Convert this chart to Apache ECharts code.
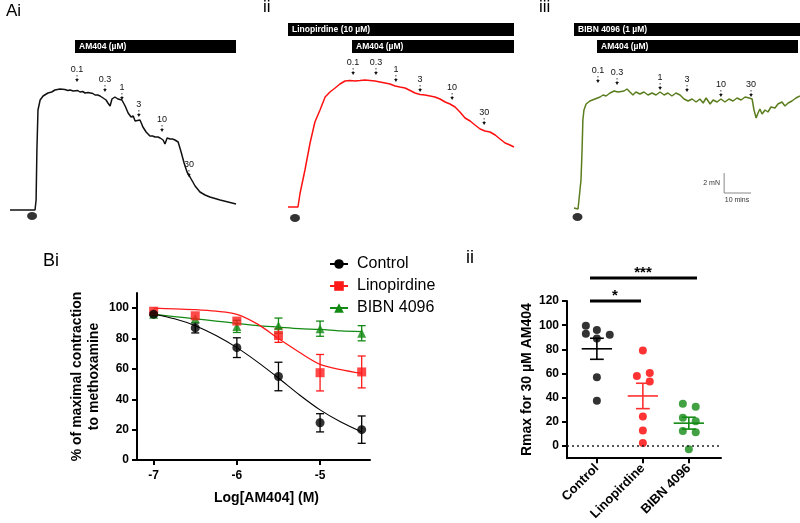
<!DOCTYPE html>
<html>
<head>
<meta charset="utf-8">
<title>AM404 relaxation</title>
<script src="https://cdn.jsdelivr.net/npm/echarts@6/dist/echarts.min.js"></script>
<style>
  html, body { margin: 0; padding: 0; background: #fff; }
  #chart { width: 800px; height: 523px; }
</style>
</head>
<body>
<div id="chart"></div>
<script>
// ---- A: tension traces, [time (min), tension (mN)] ----
const traceControl = [
  [0, 1.0], [9.3, 1.0], [9.7, 2.0], [10.0, 7.0], [10.4, 11.0], [11.2, 12.0], [12.3, 12.4], [14.1, 12.7],
  [15.5, 12.8], [16.7, 13.0], [18.6, 13.1], [20.4, 13.05], [21.5, 12.95], [22.3, 13.0], [23.5, 12.9],
  [24.2, 12.85], [25.2, 12.95], [26.0, 12.8], [27.0, 12.85], [27.9, 12.7], [29.0, 12.75], [29.7, 12.6],
  [30.8, 12.65], [31.6, 12.5], [32.6, 12.5], [33.5, 12.4], [34.6, 12.2], [35.7, 12.0], [36.4, 11.7],
  [37.2, 11.4], [37.9, 12.1], [39.0, 12.3], [40.1, 12.1], [41.6, 12.0], [42.8, 11.4], [43.9, 10.7],
  [44.5, 10.9], [45.0, 10.3], [45.8, 10.4], [46.5, 9.9], [47.2, 10.1], [48.3, 10.0], [48.8, 9.7],
  [49.4, 9.3], [50.6, 8.8], [52.0, 8.4], [53.0, 8.4], [53.9, 8.3], [55.0, 8.3], [55.8, 8.2], [56.9, 8.0],
  [57.6, 7.6], [58.4, 8.2], [59.5, 8.1], [60.4, 8.1], [61.3, 8.0], [62.5, 7.8], [63.6, 6.8], [64.7, 5.7],
  [65.8, 4.8], [66.9, 4.3], [68.8, 3.4], [70.6, 2.8], [72.5, 2.5], [74.3, 2.3], [78.1, 2.0], [81.8, 1.75],
  [84.0, 1.6]
]
const traceLino = [
  [0, 1.3], [3.7, 1.3], [4.5, 2.7], [6.3, 5.0], [8.2, 7.7], [10.0, 9.8], [11.9, 11.0], [13.8, 12.3],
  [15.6, 12.8], [17.5, 13.2], [19.3, 13.6], [21.2, 13.9], [23.0, 13.95], [24.9, 13.9], [26.8, 13.95],
  [28.6, 14.0], [30.5, 13.95], [32.3, 13.9], [34.2, 13.8], [36.1, 13.7], [37.9, 13.6], [39.8, 13.4],
  [41.6, 13.3], [43.5, 13.2], [45.4, 12.95], [47.2, 12.7], [49.1, 12.55], [50.9, 12.5], [52.8, 12.4],
  [54.6, 12.3], [56.5, 12.1], [58.4, 11.8], [60.2, 11.6], [62.1, 11.3], [63.9, 10.8], [65.8, 10.2],
  [67.7, 9.9], [69.5, 9.5], [71.4, 9.1], [73.2, 8.9], [75.1, 8.8], [77.0, 8.5], [78.8, 8.1], [80.7, 7.7],
  [82.5, 7.5], [84.0, 7.3]
]
const traceBibn = [
  [0, 1.2], [1.5, 1.1], [2.2, 1.2], [2.6, 4.0], [3.0, 7.0], [3.3, 10.0], [3.7, 11.0], [4.5, 11.6],
  [5.9, 11.9], [7.8, 12.1], [9.7, 12.3], [10.8, 12.5], [11.9, 12.4], [13.4, 12.7], [14.9, 12.9],
  [16.4, 12.8], [17.1, 13.0], [18.6, 12.9], [19.7, 13.1], [20.8, 12.8], [21.9, 12.5], [23.0, 12.8],
  [24.5, 12.6], [26.0, 12.8], [27.5, 12.5], [29.0, 12.7], [30.5, 12.5], [32.0, 12.8], [33.5, 12.5],
  [34.9, 12.7], [36.4, 12.4], [37.9, 12.7], [39.4, 12.5], [40.9, 12.1], [42.4, 11.9], [43.9, 12.1],
  [45.4, 11.8], [46.8, 12.1], [48.0, 11.7], [49.1, 12.2], [50.6, 11.6], [51.7, 12.0], [53.2, 11.8],
  [54.6, 12.1], [56.1, 11.8], [57.6, 12.1], [59.1, 11.9], [60.6, 12.2], [62.1, 12.0], [63.6, 12.3],
  [65.1, 12.2], [66.2, 12.1], [66.9, 11.0], [67.7, 10.2], [68.4, 10.7], [69.1, 11.1], [69.9, 10.6],
  [71.0, 11.0], [72.1, 10.8], [73.2, 11.3], [74.7, 11.2], [75.8, 11.6], [77.3, 11.8], [78.4, 11.4],
  [79.6, 11.7], [81.0, 11.9], [82.5, 12.2], [84.0, 12.4]
]

// AM404 additions: [time, tension at arrow tip, concentration (µM)]
const arrowsControl = [[24.9, 13.8, '0.1'], [35.3, 12.8, '0.3'], [41.6, 12.0, '1'], [47.9, 10.3, '3'], [56.5, 8.8, '10'], [66.5, 4.3, '30']]
const arrowsLino = [[24.2, 14.5, '0.1'], [32.7, 14.5, '0.3'], [40.1, 13.8, '1'], [49.1, 12.8, '3'], [61.0, 12.0, '10'], [72.9, 9.5, '30']]
const arrowsBibn = [[8.9, 13.7, '0.1'], [16.0, 13.5, '0.3'], [32.0, 13.0, '1'], [42.0, 12.8, '3'], [54.6, 12.3, '10'], [65.8, 12.3, '30']]

// methoxamine addition (filled dot)
const mxControl = [[8.2, 0.4]]
const mxLino = [[2.6, 0.2]]
const mxBibn = [[1.3, 0.3]]

// scale bar: 2 mN x 10 mins
const scaleBar = [[55.8, 4.7], [55.8, 2.7], [65.8, 2.7]]

// ---- B(i): concentration-response ----
const logDose = [-7, -6.5, -6, -5.5, -5, -4.5]
const controlMean = [96, 87, 74, 55, 24.5, 20]
const controlSem = [1, 3.3, 6.5, 9.4, 6, 9]
const linoMean = [98, 95, 91.5, 82, 57.5, 58]
const linoSem = [0, 0, 0, 4.5, 12, 10.5]
const bibnMean = [96, 93, 88, 88.5, 86.5, 83.5]
const bibnSem = [0, 0, 4, 5, 5, 5]

const fitX = [-7, -6.75, -6.5, -6.25, -6, -5.75, -5.5, -5.25, -5, -4.75, -4.5]
const controlFit = [96, 93, 88.5, 82, 74, 64.5, 54, 43, 33, 25, 18.5]
const linoFit = [100, 99.5, 99, 98, 96, 89.5, 80, 71, 63, 59.5, 57]
const bibnFit = [96, 94.5, 93, 91.5, 90, 88.5, 87.5, 86.5, 86, 85, 84.5]

// ---- B(ii): Rmax for 30 µM AM404, [group position, value] ----
const groups = ['Control', 'Linopirdine', 'BIBN 4096']
const rmaxControl = [[-0.24, 99.5], [-0.24, 93], [0, 96], [0, 89], [0.28, 92], [0, 57], [0, 37.5]]
const rmaxLino = [[1, 79], [0.87, 58], [1.15, 60.5], [1.15, 53.5], [1, 24.5], [1, 13], [1, 2.5]]
const rmaxBibn = [[1.87, 35], [2.15, 32.5], [1.87, 23.5], [2.15, 20.5], [1.87, 12.5], [2.15, 11.5], [2, -2.5]]
const rmaxMean = [80.5, 41.5, 19]
const rmaxSem = [8.7, 10.5, 4.9]

const FONT = 'Liberation Sans, Arial, sans-serif'
const GREEN = '#138a13'
const RED = '#ff1a1a'

const chart = echarts.init(document.getElementById('chart'))

function zip(xs, ys) {
  return xs.map((x, i) => [x, ys[i]])
}

function traceSeries(idx, data, color) {
  return {
    type: 'line', xAxisIndex: idx, yAxisIndex: idx, data: data,
    showSymbol: false, silent: true,
    lineStyle: { color: color, width: 1.5 }
  }
}

function arrowSeries(idx, list) {
  return {
    type: 'custom', xAxisIndex: idx, yAxisIndex: idx, clip: false, silent: true,
    data: list.map(a => [a[0], a[1]]),
    renderItem: function (params, api) {
      const p = api.coord([api.value(0), api.value(1)])
      return {
        type: 'group',
        children: [
          { type: 'line', shape: { x1: p[0], y1: p[1] - 7, x2: p[0], y2: p[1] - 2 }, style: { stroke: '#444', lineWidth: 1, lineDash: [1.5, 1.5] } },
          { type: 'polygon', shape: { points: [[p[0] - 1.8, p[1] - 3], [p[0] + 1.8, p[1] - 3], [p[0], p[1]]] }, style: { fill: '#111' } },
          { type: 'text', x: p[0], y: p[1] - 8, style: { text: list[params.dataIndex][2], font: '9px ' + FONT, fill: '#111', align: 'center', verticalAlign: 'bottom' } }
        ]
      }
    }
  }
}

function dotSeries(idx, data) {
  return {
    type: 'scatter', xAxisIndex: idx, yAxisIndex: idx, data: data, silent: true,
    symbol: 'circle', symbolSize: [10, 8], itemStyle: { color: '#000' }
  }
}

function errSeries(xs, ms, es, color) {
  return {
    type: 'custom', xAxisIndex: 3, yAxisIndex: 3, silent: true, z: 3,
    data: xs.map((x, i) => [x, ms[i], es[i]]),
    renderItem: function (params, api) {
      const x = api.value(0), m = api.value(1), e = api.value(2)
      if (!e) return null
      const t = api.coord([x, m + e])
      const b = api.coord([x, m - e])
      const st = { stroke: color, lineWidth: 1.3 }
      return {
        type: 'group',
        children: [
          { type: 'line', shape: { x1: t[0], y1: t[1], x2: b[0], y2: b[1] }, style: st },
          { type: 'line', shape: { x1: t[0] - 4, y1: t[1], x2: t[0] + 4, y2: t[1] }, style: st },
          { type: 'line', shape: { x1: b[0] - 4, y1: b[1], x2: b[0] + 4, y2: b[1] }, style: st }
        ]
      }
    }
  }
}

function meanSemSeries(g, color) {
  return {
    type: 'custom', xAxisIndex: 4, yAxisIndex: 4, silent: true, z: 4,
    data: [[g, rmaxMean[g], rmaxSem[g]]],
    renderItem: function (params, api) {
      const x = api.value(0), m = api.value(1), e = api.value(2)
      const l = api.coord([x - 0.33, m])
      const r = api.coord([x + 0.33, m])
      const t = api.coord([x, m + e])
      const b = api.coord([x, m - e])
      const cw = api.size([0.15, 0])[0]
      const st = { stroke: color, lineWidth: 1.6 }
      return {
        type: 'group',
        children: [
          { type: 'line', shape: { x1: l[0], y1: l[1], x2: r[0], y2: r[1] }, style: st },
          { type: 'line', shape: { x1: t[0], y1: t[1], x2: b[0], y2: b[1] }, style: st },
          { type: 'line', shape: { x1: t[0] - cw, y1: t[1], x2: t[0] + cw, y2: t[1] }, style: st },
          { type: 'line', shape: { x1: b[0] - cw, y1: b[1], x2: b[0] + cw, y2: b[1] }, style: st }
        ]
      }
    }
  }
}

const traceAxisX = [0, 1, 2].map(i => ({ gridIndex: i, type: 'value', min: 0, max: 84, show: false }))
const traceAxisY = [0, 1, 2].map(i => ({ gridIndex: i, type: 'value', min: 0, max: 16, show: false }))

const axisBlack = { show: true, onZero: false, lineStyle: { color: '#000', width: 2 } }
const tickBlack = { show: true, length: 5, lineStyle: { color: '#000', width: 2 } }
const labelBold = { color: '#000', fontWeight: 'bold', fontSize: 12, fontFamily: FONT }

// drug application bars (layout in px)
const drugBars = [
  { x: 75, y: 40, w: 161, text: 'AM404 (µM)' },
  { x: 288, y: 23, w: 226, text: 'Linopirdine (10 µM)' },
  { x: 352, y: 40, w: 162, text: 'AM404 (µM)' },
  { x: 574, y: 23, w: 226, text: 'BIBN 4096 (1 µM)' },
  { x: 597, y: 40, w: 201, text: 'AM404 (µM)' }
]

const graphics = []
drugBars.forEach(b => {
  graphics.push({ type: 'rect', shape: { x: b.x, y: b.y, width: b.w, height: 13 }, style: { fill: '#000' } })
  graphics.push({ type: 'text', x: b.x + 4, y: b.y + 7, style: { text: b.text, fill: '#fff', font: 'bold 8.5px ' + FONT, verticalAlign: 'middle' } })
})
const panelLabels = [
  { x: 6, y: 20, text: 'Ai', size: 17 },
  { x: 263, y: 16, text: 'ii', size: 17 },
  { x: 539, y: 16, text: 'iii', size: 17 },
  { x: 43, y: 270, text: 'Bi', size: 18 },
  { x: 466, y: 267, text: 'ii', size: 18 }
]
panelLabels.forEach(p => {
  graphics.push({ type: 'text', x: p.x, y: p.y, style: { text: p.text, font: p.size + 'px ' + FONT, fill: '#000', verticalAlign: 'bottom' } })
})
graphics.push(
  { type: 'text', x: 720, y: 183, style: { text: '2 mN', font: '7px ' + FONT, fill: '#333', align: 'right', verticalAlign: 'middle' } },
  { type: 'text', x: 737, y: 200, style: { text: '10 mins', font: '7px ' + FONT, fill: '#333', align: 'center', verticalAlign: 'middle' } },
  { type: 'line', shape: { x1: 590, y1: 301, x2: 641, y2: 301 }, style: { stroke: '#000', lineWidth: 3 } },
  { type: 'text', x: 615, y: 296, style: { text: '*', font: 'bold 15px ' + FONT, fill: '#000', align: 'center', verticalAlign: 'middle' } },
  { type: 'line', shape: { x1: 590, y1: 278, x2: 697, y2: 278 }, style: { stroke: '#000', lineWidth: 3 } },
  { type: 'text', x: 643, y: 273, style: { text: '***', font: 'bold 15px ' + FONT, fill: '#000', align: 'center', verticalAlign: 'middle' } }
)

const option = {
  animation: false,
  backgroundColor: '#fff',
  textStyle: { fontFamily: FONT },
  grid: [
    { left: 10, top: 60, width: 226, height: 160 },
    { left: 288, top: 60, width: 226, height: 160 },
    { left: 574, top: 60, width: 226, height: 160 },
    { left: 137, top: 293, width: 233, height: 167 },
    { left: 567, top: 301, width: 154, height: 159 }
  ],
  legend: {
    data: ['Control', 'Linopirdine', 'BIBN 4096'],
    orient: 'vertical',
    left: 324,
    top: 251,
    itemWidth: 18,
    itemHeight: 12,
    itemGap: 6,
    selectedMode: false,
    textStyle: { fontSize: 16, color: '#000', lineHeight: 16, padding: [0, 0, 0, 4] }
  },
  xAxis: traceAxisX.concat([
    {
      gridIndex: 3, type: 'value', min: -7.2, max: -4.4,
      axisLine: axisBlack,
      axisTick: Object.assign({ customValues: [-7, -6, -5] }, tickBlack),
      axisLabel: Object.assign({ customValues: [-7, -6, -5], margin: 10 }, labelBold),
      splitLine: { show: false },
      name: 'Log[AM404] (M)', nameLocation: 'middle', nameGap: 31,
      nameTextStyle: { color: '#000', fontWeight: 'bold', fontSize: 14, padding: [0, 0, 0, 26] }
    },
    {
      gridIndex: 4, type: 'value', min: -0.65, max: 2.7,
      axisLine: axisBlack,
      axisTick: Object.assign({ customValues: [0, 1, 2] }, tickBlack),
      axisLabel: Object.assign({ customValues: [0, 1, 2], rotate: 45, margin: 8, formatter: v => groups[Math.round(v)] }, labelBold, { fontSize: 13 }),
      splitLine: { show: false }
    }
  ]),
  yAxis: traceAxisY.concat([
    {
      gridIndex: 3, type: 'value', min: 0, max: 110,
      axisLine: axisBlack,
      axisTick: Object.assign({ customValues: [0, 20, 40, 60, 80, 100] }, tickBlack),
      axisLabel: Object.assign({ customValues: [0, 20, 40, 60, 80, 100], margin: 8 }, labelBold),
      splitLine: { show: false },
      name: '% of maximal contraction\nto methoxamine', nameLocation: 'middle', nameGap: 34,
      nameTextStyle: { color: '#000', fontWeight: 'bold', fontSize: 14, lineHeight: 17 }
    },
    {
      gridIndex: 4, type: 'value', min: -10, max: 120,
      axisLine: axisBlack,
      axisTick: Object.assign({ customValues: [0, 20, 40, 60, 80, 100, 120] }, tickBlack),
      axisLabel: Object.assign({ customValues: [0, 20, 40, 60, 80, 100, 120], margin: 8 }, labelBold),
      splitLine: { show: false },
      name: 'Rmax for 30 µM AM404', nameLocation: 'middle', nameGap: 33,
      nameTextStyle: { color: '#000', fontWeight: 'bold', fontSize: 14 }
    }
  ]),
  series: [
    // A traces
    traceSeries(0, traceControl, '#111'),
    arrowSeries(0, arrowsControl),
    dotSeries(0, mxControl),
    traceSeries(1, traceLino, '#ff1010'),
    arrowSeries(1, arrowsLino),
    dotSeries(1, mxLino),
    traceSeries(2, traceBibn, '#5a7d1e'),
    arrowSeries(2, arrowsBibn),
    dotSeries(2, mxBibn),
    {
      type: 'line', xAxisIndex: 2, yAxisIndex: 2, data: scaleBar, showSymbol: false, silent: true,
      lineStyle: { color: '#888', width: 1 }
    },
    // B(i) fitted curves (legend entries)
    {
      name: 'BIBN 4096', type: 'line', xAxisIndex: 3, yAxisIndex: 3, data: zip(fitX, bibnFit),
      smooth: 0.3, showSymbol: false, symbol: 'triangle', z: 2,
      lineStyle: { color: GREEN, width: 1.3 }, itemStyle: { color: GREEN }
    },
    {
      name: 'Linopirdine', type: 'line', xAxisIndex: 3, yAxisIndex: 3, data: zip(fitX, linoFit),
      smooth: 0.3, showSymbol: false, symbol: 'rect', z: 2,
      lineStyle: { color: RED, width: 1.3 }, itemStyle: { color: RED }
    },
    {
      name: 'Control', type: 'line', xAxisIndex: 3, yAxisIndex: 3, data: zip(fitX, controlFit),
      smooth: 0.3, showSymbol: false, symbol: 'circle', z: 2,
      lineStyle: { color: '#000', width: 1.1 }, itemStyle: { color: '#000' }
    },
    errSeries(logDose, bibnMean, bibnSem, GREEN),
    errSeries(logDose, linoMean, linoSem, RED),
    errSeries(logDose, controlMean, controlSem, '#000'),
    {
      type: 'scatter', xAxisIndex: 3, yAxisIndex: 3, data: zip(logDose, bibnMean), z: 5,
      symbol: 'triangle', symbolSize: 9, itemStyle: { color: GREEN }, silent: true
    },
    {
      type: 'scatter', xAxisIndex: 3, yAxisIndex: 3, data: zip(logDose, linoMean), z: 6,
      symbol: 'rect', symbolSize: 9, itemStyle: { color: RED }, silent: true
    },
    {
      type: 'scatter', xAxisIndex: 3, yAxisIndex: 3, data: zip(logDose, controlMean), z: 7,
      symbol: 'circle', symbolSize: 9, itemStyle: { color: '#000' }, silent: true
    },
    // B(ii) individual vessels
    {
      type: 'scatter', xAxisIndex: 4, yAxisIndex: 4, data: rmaxControl, silent: true,
      symbol: 'circle', symbolSize: 8, itemStyle: { color: '#000' },
      markLine: {
        silent: true, symbol: 'none', label: { show: false },
        lineStyle: { color: '#222', type: [2, 3], width: 1.5 },
        data: [{ yAxis: 0 }]
      }
    },
    {
      type: 'scatter', xAxisIndex: 4, yAxisIndex: 4, data: rmaxLino, silent: true,
      symbol: 'circle', symbolSize: 8, itemStyle: { color: '#ff0000' }
    },
    {
      type: 'scatter', xAxisIndex: 4, yAxisIndex: 4, data: rmaxBibn, silent: true,
      symbol: 'circle', symbolSize: 8, itemStyle: { color: GREEN }
    },
    meanSemSeries(0, '#000'),
    meanSemSeries(1, '#ff3030'),
    meanSemSeries(2, GREEN)
  ],
  graphic: graphics
}

chart.setOption(option)
</script>
</body>
</html>
